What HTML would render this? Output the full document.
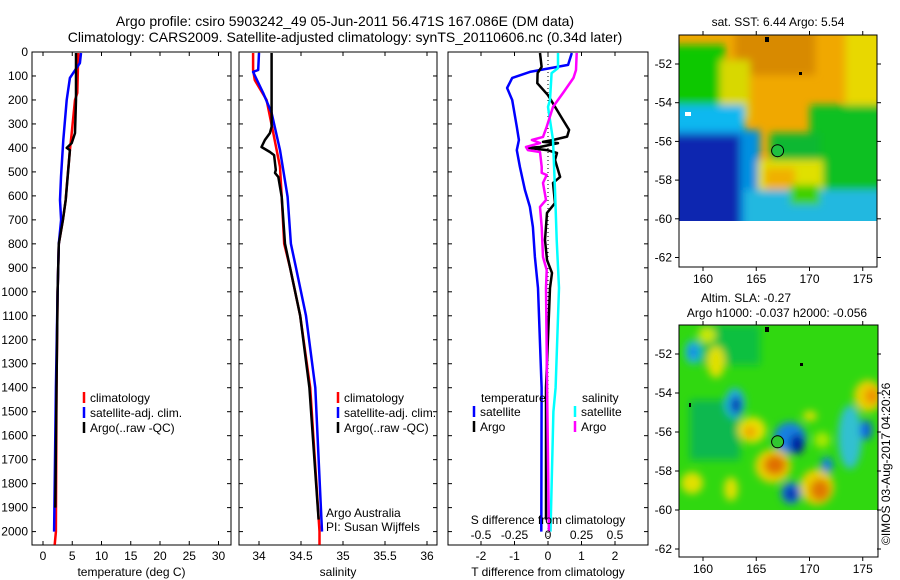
<!DOCTYPE html>
<html><head><meta charset="utf-8"><style>
html,body{margin:0;padding:0;background:#fff;}
svg{display:block;font-family:"Liberation Sans",sans-serif;}
</style></head><body>
<svg id="fig" width="900" height="580" viewBox="0 0 900 580" xmlns="http://www.w3.org/2000/svg">
<defs>
<filter id="blr" filterUnits="userSpaceOnUse" x="600" y="0" width="300" height="580"><feGaussianBlur stdDeviation="4"/></filter>
<clipPath id="c1"><rect x="679" y="35" width="198" height="186"/></clipPath>
<clipPath id="c2"><rect x="679" y="325" width="199" height="185"/></clipPath>
</defs>
<g font-size="14" text-anchor="middle">
<text x="345" y="26">Argo profile: csiro 5903242_49 05-Jun-2011 56.471S 167.086E (DM data)</text>
<text x="345" y="42">Climatology: CARS2009. Satellite-adjusted climatology: synTS_20110606.nc (0.34d later)</text>
</g>
<g id="panels"></g>

<!-- SST map -->
<g>
<text x="778" y="26" font-size="12" text-anchor="middle">sat. SST: 6.44  Argo: 5.54</text>
<g clip-path="url(#c1)">
<rect x="679" y="35" width="198" height="186" fill="#f0a800"/>
<g filter="url(#blr)">
<rect x="735" y="30" width="80" height="45" fill="#d88a00"/>
<rect x="845" y="30" width="40" height="80" fill="#e8d800"/>
<rect x="670" y="45" width="55" height="100" fill="#10c800"/>
<rect x="720" y="60" width="30" height="60" fill="#d8d800"/>
<rect x="670" y="105" width="75" height="40" fill="#10b8f0"/>
<rect x="670" y="130" width="90" height="100" fill="#0090e0"/>
<rect x="670" y="135" width="70" height="95" fill="#0828b0"/>
<rect x="810" y="105" width="75" height="85" fill="#10c020"/>
<rect x="770" y="133" width="50" height="34" fill="#10b830"/>
<rect x="758" y="160" width="65" height="38" fill="#e0e000"/>
<rect x="765" y="168" width="30" height="22" fill="#f0b000"/>
<rect x="745" y="190" width="140" height="40" fill="#20b8e0"/>
<rect x="790" y="185" width="30" height="20" fill="#40d000"/>
</g>
</g>
<rect x="679" y="35" width="198" height="232" fill="none" stroke="#000"/>
<circle cx="777.6" cy="150.7" r="6" fill="#20c040" stroke="#000"/>
<rect x="765" y="37" width="4" height="5" fill="#000"/><rect x="799" y="72" width="3" height="3" fill="#000"/><rect x="685" y="112" width="6" height="4" fill="#fff"/>
<g id="map1ax"></g>
</g>

<!-- SLA map -->
<g>
<text x="746" y="302" font-size="12" text-anchor="middle">Altim. SLA: -0.27</text>
<text x="777" y="317" font-size="12" text-anchor="middle">Argo h1000: -0.037 h2000: -0.056</text>
<g clip-path="url(#c2)">
<rect x="679" y="325" width="199" height="185" fill="#30d810"/>
<g filter="url(#blr)">
<rect x="700" y="325" width="60" height="40" fill="#10c040"/>
<rect x="690" y="400" width="50" height="60" fill="#10b850"/>
<ellipse cx="693" cy="352" rx="8" ry="12" fill="#20b8e0"/>
<ellipse cx="693" cy="352" rx="3" ry="6" fill="#1060e0"/>
<ellipse cx="716" cy="362" rx="9" ry="16" fill="#e0e000"/>
<ellipse cx="707" cy="335" rx="9" ry="8" fill="#c8e800"/>
<ellipse cx="735" cy="403" rx="10" ry="15" fill="#20b0e0"/>
<ellipse cx="736" cy="405" rx="5" ry="9" fill="#0020b0"/>
<ellipse cx="752" cy="430" rx="14" ry="13" fill="#e8e000"/>
<ellipse cx="750" cy="432" rx="6" ry="6" fill="#f0a000"/>
<ellipse cx="790" cy="438" rx="16" ry="16" fill="#1880e0"/>
<ellipse cx="797" cy="444" rx="7" ry="10" fill="#0018a0"/>
<ellipse cx="773" cy="466" rx="18" ry="17" fill="#e8d000"/>
<ellipse cx="775" cy="465" rx="11" ry="10" fill="#e07000"/>
<ellipse cx="791" cy="493" rx="10" ry="11" fill="#1870e0"/>
<ellipse cx="791" cy="494" rx="5" ry="6" fill="#0018a0"/>
<ellipse cx="817" cy="487" rx="17" ry="18" fill="#e8d000"/>
<ellipse cx="820" cy="490" rx="10" ry="11" fill="#e07800"/>
<ellipse cx="827" cy="465" rx="6" ry="8" fill="#1080e0"/>
<ellipse cx="850" cy="437" rx="12" ry="32" fill="#30c0d0"/>
<ellipse cx="868" cy="396" rx="14" ry="16" fill="#e8d000"/>
<ellipse cx="872" cy="396" rx="7" ry="8" fill="#f09000"/>
<ellipse cx="866" cy="430" rx="6" ry="10" fill="#1060e0"/>
<ellipse cx="692" cy="483" rx="11" ry="11" fill="#e0e000"/>
<ellipse cx="731" cy="489" rx="7" ry="12" fill="#e0e000"/>
<ellipse cx="810" cy="416" rx="7" ry="5" fill="#e0e000"/>
<ellipse cx="822" cy="440" rx="8" ry="8" fill="#a8e800"/>
</g>
</g>
<rect x="679" y="325" width="199" height="232" fill="none" stroke="#000"/>
<circle cx="777.6" cy="441.8" r="6" fill="#30c830" stroke="#000"/>
<rect x="765" y="327" width="4" height="5" fill="#000"/><rect x="800" y="363" width="3" height="3" fill="#000"/><rect x="689" y="403" width="2" height="4" fill="#000"/>
<g id="map2ax"></g>
</g>
<text transform="translate(890,545) rotate(-90)" font-size="12">©IMOS 03-Aug-2017 04:20:26</text>
</svg>
<script>
// ---- profile data (depth in m) ----
const tempClimDepth = [4,171,200,338,409,563,617,700,800,1000,1400,2000,2055];
const tempClimVals  = [6.04,5.87,5.47,4.9,4.6,4.05,3.88,3.4,2.7,2.5,2.3,2.2,2.0];
const tempSatDepth  = [4,46,108,200,367,521,617,700,800,1000,1400,2000];
const tempSatVals   = [6.5,6.3,4.6,4.05,3.47,3.08,2.9,3.1,2.7,2.5,2.2,1.9];
const tempArgoDepth = [4,200,338,380,400,409,617,700,800,1000,1400,1900];
const tempArgoVals  = [5.64,5.64,5.47,4.9,4.05,4.6,3.88,3.4,2.7,2.5,2.3,2.1];

const salClimDepth = [4,75,117,200,338,479,604,800,900,1100,1400,2000,2055];
const salClimVals  = [33.93,33.93,33.95,34.09,34.17,34.25,34.27,34.3,34.37,34.49,34.61,34.72,34.72];
const salSatDepth  = [4,75,83,171,254,409,604,800,900,1100,1400,2000];
const salSatVals   = [34.0,33.99,33.93,34.05,34.15,34.25,34.34,34.38,34.44,34.56,34.67,34.75];
const salArgoDepth = [4,312,338,367,396,417,430,492,504,521,604,800,900,1100,1400,1950];
const salArgoVals  = [34.15,34.15,34.13,34.07,34.03,34.13,34.18,34.2,34.19,34.23,34.27,34.31,34.37,34.49,34.6,34.71];

const dTSatDepth  = [4,54,83,108,150,200,312,367,409,479,575,646,730,855,984,1400,2000];
const dTSatVals   = [0.71,0.6,-0.54,-1.07,-1.22,-1.07,-0.93,-0.87,-0.93,-0.84,-0.69,-0.54,-0.45,-0.39,-0.3,-0.19,-0.2];
const dTArgoDepth = [4,62,88,130,180,284,325,353,367,375,380,396,400,409,421,450,521,546,630,671,784,867,921,984,1400,1950];
const dTArgoVals  = [-0.24,-0.19,-0.31,-0.32,0,0.45,0.63,0.57,0.15,-0.15,0.3,-0.24,-0.6,-0.03,0.27,0.21,0.36,0.15,0.21,-0.03,-0.09,-0.03,0.12,0.06,-0.06,-0.06];
const dSSatDepth  = [4,67,88,200,229,367,575,784,984,1400,1500,2000];
const dSSatVals   = [0.075,0.075,0.027,0.015,0,0.037,0.052,0.065,0.082,0.057,0.04,0.019];
const dSArgoDepth = [4,75,108,171,229,312,354,367,380,396,409,417,479,504,513,546,617,646,730,855,909,984,1400,2000];
const dSArgoVals  = [0.214,0.209,0.19,0.112,0.037,-0.01,-0.037,-0.12,-0.06,-0.164,-0.15,-0.06,-0.047,-0.047,-0.01,-0.037,-0.015,-0.06,-0.047,-0.037,-0.01,-0.015,-0.007,0.007];

const depthTicks = [0,100,200,300,400,500,600,700,800,900,1000,1100,1200,1300,1400,1500,1600,1700,1800,1900,2000];
const tempTicks = [0,5,10,15,20,25,30];
const salTicks = [34,34.5,35,35.5,36];
const salTickLabels = ["34","34.5","35","35.5","36"];
const dTTicks = [-2,-1,0,1,2];
const dSTicks = [-0.5,-0.25,0,0.25,0.5];
const lonTicks = [160,165,170,175];
const latTicks = [-52,-54,-56,-58,-60,-62];

const NS = "http://www.w3.org/2000/svg";
const Y = d => 52 + d*0.2398;
const XT = v => 43 + v*5.85;
const XS = v => 259 + (v-34)*84;
const XDT = v => 548 + v*33.5;
const XDS = v => 548 + v*134;
const LX = lon => 703 + (lon-160)*10.65;
const LY1 = lat => 64 + (-52-lat)*19.35;
const LY2 = lat => 354 + (-52-lat)*19.5;

function mk(tag, attrs, parent){ const e=document.createElementNS(NS,tag); for(const k in attrs) e.setAttribute(k,attrs[k]); parent.appendChild(e); return e; }
const root = document.getElementById('panels');

function panel(name, x0, x1, ticks, fx, labels, title, showY){
  const g = mk('g',{},root);
  
  
  const fr = mk('rect',{x:x0,y:52,width:x1-x0,height:493,fill:'none',stroke:'#000'},g);
  
  
  ticks.forEach((t,i)=>{
    const x=fx(t);
    mk('line',{x1:x,x2:x,y1:545,y2:541,stroke:'#000'},g);
    mk('line',{x1:x,x2:x,y1:52,y2:56,stroke:'#000'},g);
    const tl = mk('text',{x:x,y:560,'font-size':12,'text-anchor':'middle'},g);
    tl.textContent = labels ? labels[i] : String(t);
    
    
  });
  depthTicks.forEach(d=>{
    mk('line',{x1:x0,x2:x0+4,y1:Y(d),y2:Y(d),stroke:'#000'},g);
    mk('line',{x1:x1,x2:x1-4,y1:Y(d),y2:Y(d),stroke:'#000'},g);
    if(showY){
      const yl = mk('text',{x:28,y:Y(d)+4,'font-size':12,'text-anchor':'end'},g);
      yl.textContent = String(d);
      
      
    }
  });
  const tt = mk('text',{x:(x0+x1)/2,y:576,'font-size':12,'text-anchor':'middle'},g);
  tt.textContent = title;
  
  
  return g;
}
function line(g, name, depths, vals, fx, color, w){
  const pts = depths.map((d,i)=>fx(vals[i]).toFixed(1)+','+Y(d).toFixed(1)).join(' ');
  const p = mk('polyline',{points:pts,fill:'none',stroke:color,'stroke-width':w,'stroke-linejoin':'round'},g);
  
  
}
function legend(g, x, y, items){
  items.forEach((it,i)=>{
    mk('line',{x1:x,x2:x,y1:y+i*15-10,y2:y+i*15+1,stroke:it[1],'stroke-width':2.5},g);
    const t = mk('text',{x:x+6,y:y+i*15,'font-size':12},g);
    t.textContent = it[0];
    
    
  });
}

const p1 = panel('temperature-panel',32,231,tempTicks,XT,null,'temperature (deg C)',true);
line(p1,'temp-climatology-line',tempClimDepth,tempClimVals,XT,'#f00',2.5);
line(p1,'temp-satellite-line',tempSatDepth,tempSatVals,XT,'#00f',2.5);
line(p1,'temp-argo-line',tempArgoDepth,tempArgoVals,XT,'#000',2.5);
legend(p1,84,402,[['climatology','#f00'],['satellite-adj. clim.','#00f'],['Argo(..raw -QC)','#000']]);

const p2 = panel('salinity-panel',239,437,salTicks,XS,salTickLabels,'salinity',false);
line(p2,'sal-climatology-line',salClimDepth,salClimVals,XS,'#f00',2.5);
line(p2,'sal-satellite-line',salSatDepth,salSatVals,XS,'#00f',2.5);
line(p2,'sal-argo-line',salArgoDepth,salArgoVals,XS,'#000',2.5);
legend(p2,338,402,[['climatology','#f00'],['satellite-adj. clim.','#00f'],['Argo(..raw -QC)','#000']]);
[['Argo Australia',517],['PI: Susan Wijffels',531]].forEach(a=>{
  const t = mk('text',{x:326,y:a[1],'font-size':12},p2);
  t.textContent = a[0];
  
  
});

const p3 = panel('difference-panel',448,648,dTTicks,XDT,null,'T difference from climatology',false);
mk('line',{x1:548,x2:548,y1:52,y2:540,stroke:'#000','stroke-dasharray':'1,3'},p3);
line(p3,'dt-satellite-line',dTSatDepth,dTSatVals,XDT,'#00f',2.5);
line(p3,'dt-argo-line',dTArgoDepth,dTArgoVals,XDT,'#000',2.5);
line(p3,'ds-satellite-line',dSSatDepth,dSSatVals,XDS,'#0ff',2.5);
line(p3,'ds-argo-line',dSArgoDepth,dSArgoVals,XDS,'#f0f',2.5);
const lt = mk('text',{x:481,y:402,'font-size':12},p3); lt.textContent='temperature';


const ls = mk('text',{x:582,y:402,'font-size':12},p3); ls.textContent='salinity';


legend(p3,474,416,[['satellite','#00f'],['Argo','#000']]);
legend(p3,575,416,[['satellite','#0ff'],['Argo','#f0f']]);
const st = mk('text',{x:548,y:524,'font-size':12,'text-anchor':'middle'},p3); st.textContent='S difference from climatology';


dSTicks.forEach(v=>{
  const t = mk('text',{x:XDS(v),y:539,'font-size':12,'text-anchor':'middle'},p3);
  t.textContent = String(v);
  
  
});

function mapAxes(id, top, bot, LY){
  const g = document.getElementById(id);
  lonTicks.forEach(l=>{
    const x=LX(l);
    mk('line',{x1:x,x2:x,y1:top,y2:top-4,stroke:'#000'},g);
    mk('line',{x1:x,x2:x,y1:bot,y2:bot+4,stroke:'#000'},g);
    const t = mk('text',{x:x,y:bot+16,'font-size':12,'text-anchor':'middle'},g);
    t.textContent = String(l);
    
    
  });
  latTicks.forEach(l=>{
    const y=LY(l);
    mk('line',{x1:679,x2:675,y1:y,y2:y,stroke:'#000'},g);
    mk('line',{x1:877,x2:881,y1:y,y2:y,stroke:'#000'},g);
    const t = mk('text',{x:672,y:y+4,'font-size':12,'text-anchor':'end'},g);
    t.textContent = String(l);
    
    
  });
}
mapAxes('map1ax',35,267,LY1);
mapAxes('map2ax',325,557,LY2);
</script>
</body></html>
